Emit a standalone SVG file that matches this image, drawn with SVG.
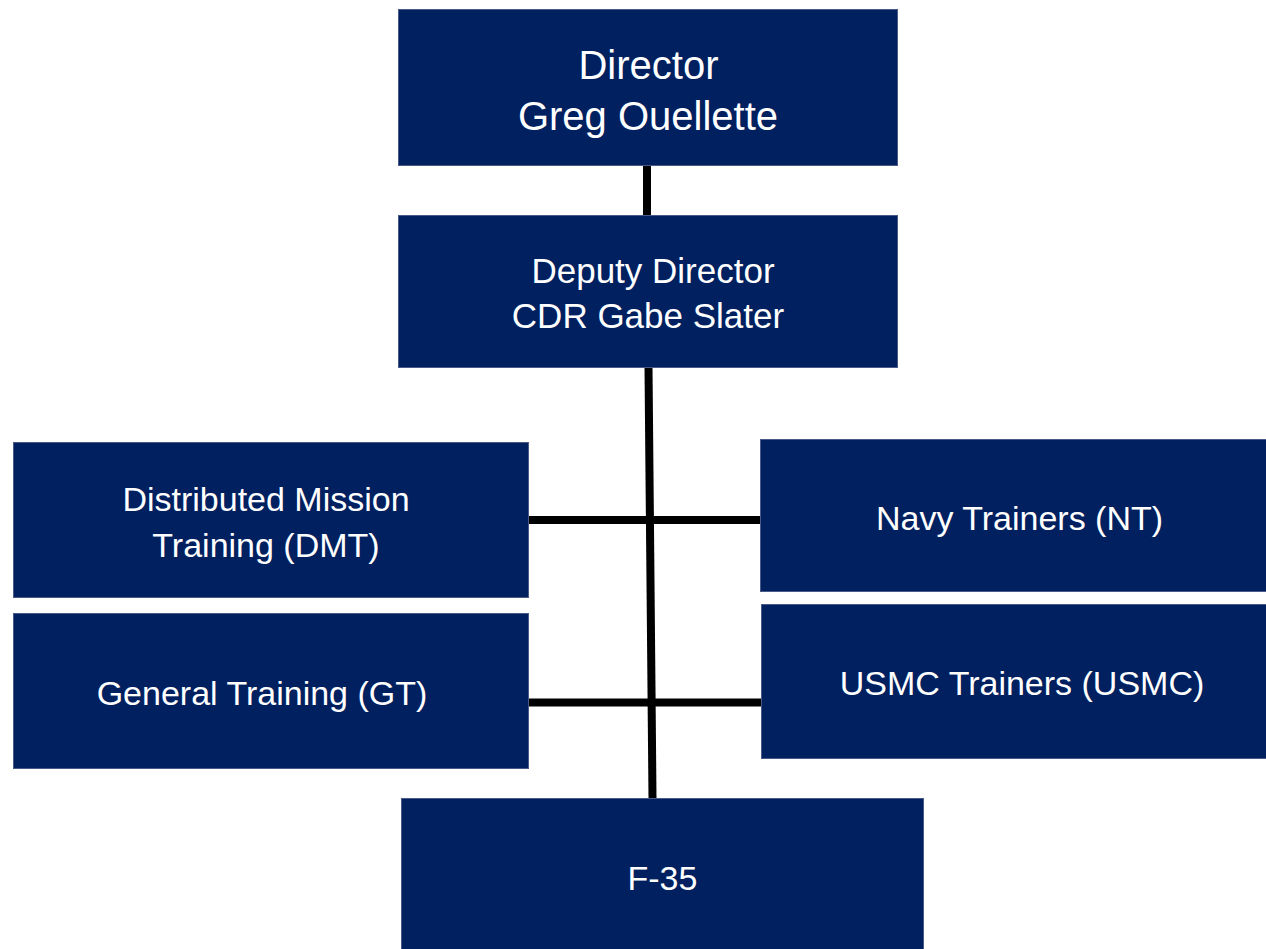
<svg xmlns="http://www.w3.org/2000/svg" width="1266" height="949" viewBox="0 0 1266 949">
<style>
.box{fill:#002060;stroke:#4a5a88;stroke-width:1}
.t{fill:#ffffff;font-family:"Liberation Sans",Arial,sans-serif;text-anchor:middle}
.con{stroke:#000000;fill:none}
</style>
<rect width="1266" height="949" fill="#ffffff"/>
<g id="connectors">
<line class="con" x1="647" y1="165" x2="647" y2="215" stroke-width="8"/>
<line class="con" x1="648.5" y1="367" x2="652.5" y2="798" stroke-width="8"/>
<line class="con" x1="528" y1="520" x2="760" y2="520" stroke-width="8"/>
<line class="con" x1="528" y1="702.5" x2="761" y2="702.5" stroke-width="8"/>
</g>
<g id="director">
<rect class="box" x="398.5" y="9.5" width="499" height="156"/>
<text class="t" font-size="40" x="648.5" y="79">Director</text>
<text class="t" font-size="40" x="648" y="130">Greg Ouellette</text>
</g>
<g id="deputy">
<rect class="box" x="398.5" y="215.5" width="499" height="152"/>
<text class="t" font-size="35" x="653" y="283">Deputy Director</text>
<text class="t" font-size="35" x="648" y="328">CDR Gabe Slater</text>
</g>
<g id="dmt">
<rect class="box" x="13.5" y="442.5" width="515" height="155"/>
<text class="t" font-size="34" x="266" y="511">Distributed Mission</text>
<text class="t" font-size="34" x="266" y="557">Training (DMT)</text>
</g>
<g id="gt">
<rect class="box" x="13.5" y="613.5" width="515" height="155"/>
<text class="t" font-size="34" x="262" y="705">General Training (GT)</text>
</g>
<g id="nt">
<rect class="box" x="760.5" y="439.5" width="506" height="152"/>
<text class="t" font-size="34" x="1019.5" y="530">Navy Trainers (NT)</text>
</g>
<g id="usmc">
<rect class="box" x="761.5" y="604.5" width="505" height="154"/>
<text class="t" font-size="34" x="1022" y="695">USMC Trainers (USMC)</text>
</g>
<g id="f35">
<rect class="box" x="401.5" y="798.5" width="522" height="152"/>
<text class="t" font-size="34" x="662.5" y="890">F-35</text>
</g>
</svg>
